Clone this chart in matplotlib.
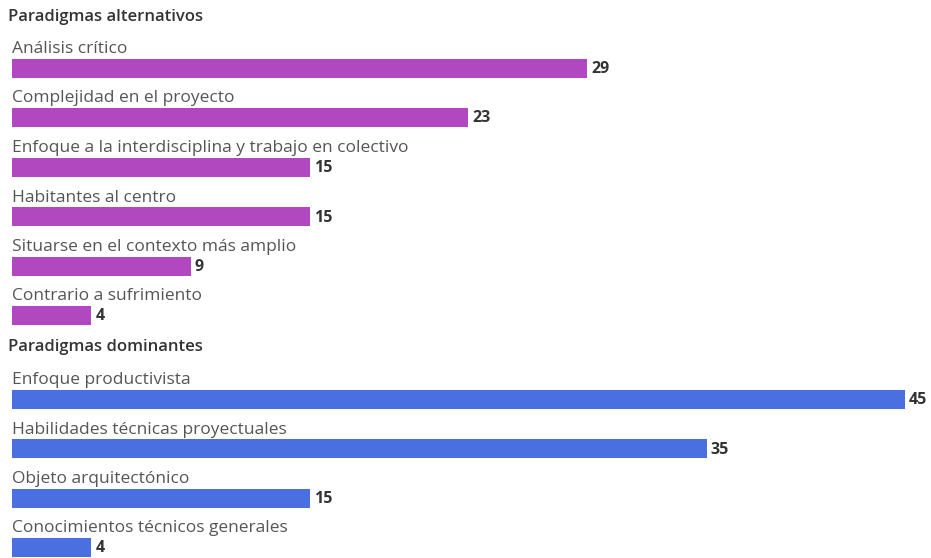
import matplotlib
matplotlib.use("Agg")
import matplotlib.pyplot as plt

# ---- Data ----
groups = ["Paradigmas alternativos", "Paradigmas dominantes"]
alt_labels = ["Análisis crítico", "Complejidad en el proyecto",
              "Enfoque a la interdisciplina y trabajo en colectivo",
              "Habitantes al centro", "Situarse en el contexto más amplio",
              "Contrario a sufrimiento"]
alt_values = [29, 23, 15, 15, 9, 4]
dom_labels = ["Enfoque productivista", "Habilidades técnicas proyectuales",
              "Objeto arquitectónico", "Conocimientos técnicos generales"]
dom_values = [45, 35, 15, 4]
colors = ["#B248BF", "#4A6FE0"]

# ---- Layout (pixels) ----
W, H = 931, 558
x0 = 12
px_per_unit = 893 / 45
step = 49.5
bar_h = 19

fig = plt.figure(figsize=(W / 100, H / 100), dpi=100)
ax = fig.add_axes([0, 0, 1, 1])
ax.set_xlim(-x0 / px_per_unit, (W - x0) / px_per_unit)
ax.set_ylim(H, 0)
ax.axis("off")

font = "Open Sans"
starts = [(17, 68), (347, 399)]
for g, (labels, values, col, (hy, by)) in enumerate(
        zip([alt_labels, dom_labels], [alt_values, dom_values], colors, starts)):
    ax.text(-4 / px_per_unit, hy, groups[g], fontsize=12, fontweight="semibold",
            color="#333333", family=font, va="center", ha="left")
    ys = [by + i * step for i in range(len(values))]
    ax.barh(ys, values, height=bar_h, color=col, left=0)
    for y, lab, v in zip(ys, labels, values):
        ax.text(0, y - 19, lab, fontsize=12.5, color="#555555", family=font,
                va="center", ha="left")
        ax.text(v + 4 / px_per_unit, y + 1, str(v), fontsize=11.5, fontweight="bold",
                color="#333333", family=font, va="center", ha="left")

fig.savefig("out.png", dpi=100)
